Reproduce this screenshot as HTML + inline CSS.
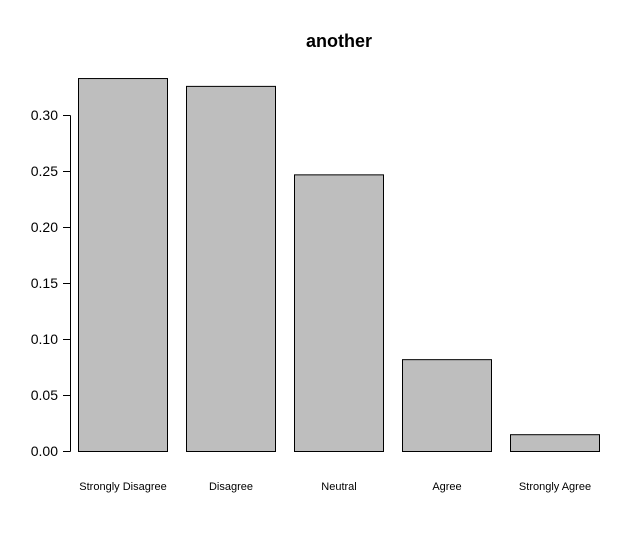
<!DOCTYPE html>
<html><head><meta charset="utf-8"><style>
html,body{margin:0;padding:0;background:#fff;}
svg{display:block;font-family:"Liberation Sans",Arial,sans-serif;}
</style></head><body>
<svg id="chart" width="640" height="553" viewBox="0 0 640 553">
<rect width="640" height="553" fill="#fff"/>
<text x="339" y="47" text-anchor="middle" font-size="18" font-weight="bold">another</text>
<g id="yaxis"></g>
<g id="bars"></g>
<g id="xlabels"></g>
</svg>
<script>
const categories = ["Strongly Disagree","Disagree","Neutral","Agree","Strongly Agree"];
const values = [0.333, 0.326, 0.247, 0.082, 0.015];
const yTicks = [0, 0.05, 0.10, 0.15, 0.20, 0.25, 0.30];
const yTickLabels = ["0.00","0.05","0.10","0.15","0.20","0.25","0.30"];

const NS = "http://www.w3.org/2000/svg";
const y0 = 451, pxPerUnit = 1120;
const y = v => y0 - v * pxPerUnit;
const barLeft = 78.5, barW = 89, barStep = 108;
const x = i => barLeft + i * barStep;

function mk(tag, attrs, parent){
  const e = document.createElementNS(NS, tag);
  for (const k in attrs) e.setAttribute(k, attrs[k]);
  parent.appendChild(e);
  return e;
}
const yaxis = document.getElementById("yaxis");
const axLine = mk("line",{x1:70.5,x2:70.5,y1:y(yTicks[0])+0.5,y2:y(yTicks[yTicks.length-1])+0.5,stroke:"#000","stroke-width":1},yaxis);


yTicks.forEach((t,i)=>{
  const tk = mk("line",{x1:63,x2:70.5,y1:y(t)+0.5,y2:y(t)+0.5,stroke:"#000","stroke-width":1},yaxis);
  
  
  const lb = mk("text",{x:58,y:y(t)+5,"text-anchor":"end","font-size":"14"},yaxis);
  lb.textContent = yTickLabels[i];
  
  
});
const bars = document.getElementById("bars");
const xl = document.getElementById("xlabels");
values.forEach((v,i)=>{
  const r = mk("rect",{x:x(i),y:y(v)+0.5,width:barW,height:y0-y(v),fill:"#bebebe",stroke:"#000","stroke-width":1},bars);
  
  
  const t = mk("text",{x:x(i)+barW/2,y:490,"text-anchor":"middle","font-size":"11"},xl);
  t.textContent = categories[i];
  
  
});
</script>
</body></html>
